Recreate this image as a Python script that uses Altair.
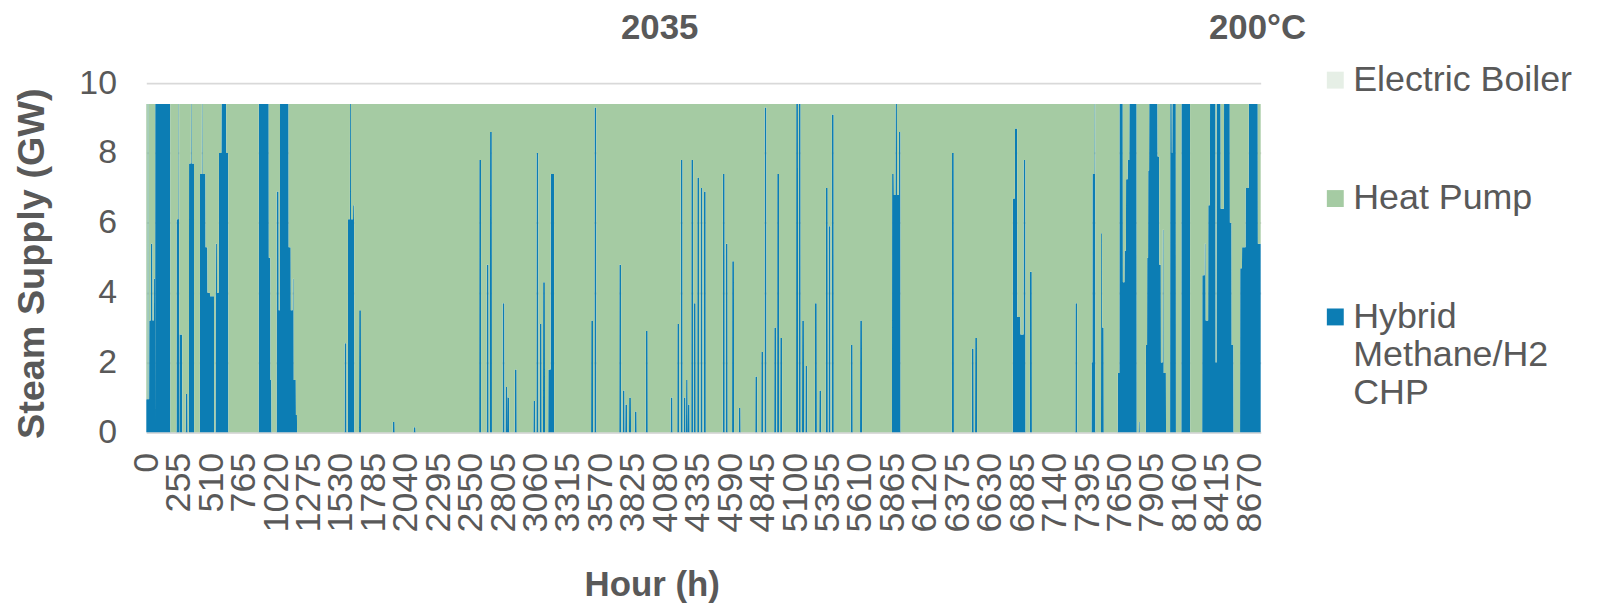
import altair as alt
import pandas as pd

# ---------------- data ----------------
hours_in_year = 8760
total_supply_gw = 9.4          # constant steam demand (top of the stack)
electric_boiler_gw = 0.0       # not visible anywhere in the chart

# Hybrid Methane/H2 CHP operating blocks: start hour, end hour, output (GW)
chp_start = [
    0, 11, 17, 23, 36, 49, 59, 70,
    238, 253, 262, 310, 336, 351, 357,
    422, 437, 443, 466, 481, 501,
    545, 556, 571, 591, 629,
    884, 963, 976,
    1025, 1041, 1051, 1119, 1136, 1151, 1159, 1176,
    1559, 1585, 1601, 1609, 1626, 1673,
    1938, 2102, 2617, 2676, 2702, 2801, 2824, 2840,
    2897, 3043, 3067, 3093, 3119, 3160, 3179,
    3497, 3523, 3718, 3745, 3765, 3795, 3840, 3927,
    4122, 4174, 4201, 4225, 4243, 4258, 4284, 4305,
    4331, 4357, 4383, 4532, 4555, 4605, 4657, 4787,
    4834, 4860, 4936, 4959, 4983, 5108, 5129, 5155,
    5181, 5256, 5290, 5342, 5363, 5389, 5538, 5611,
    5862, 5876, 5889, 5901, 5915,
    6333, 6489, 6515,
    6811, 6828, 6846, 6871, 6896, 6946,
    7303, 7430, 7437, 7453, 7505, 7513,
    7636, 7649, 7676, 7689, 7701, 7714, 7727, 7800,
    7857, 7867, 7875, 7883, 7949, 7962, 7975, 7989, 7997,
    8048, 8061, 8065, 8136,
    8300, 8319, 8327, 8347, 8361, 8405, 8413, 8445, 8471, 8517, 8531,
    8598, 8613, 8641, 8666, 8737,
]
chp_end = [
    10, 16, 22, 35, 48, 58, 68, 188,
    252, 258, 282, 324, 350, 356, 375,
    436, 442, 465, 480, 500, 532,
    555, 570, 590, 628, 644,
    962, 975, 983,
    1040, 1050, 1118, 1135, 1150, 1158, 1175, 1184,
    1573, 1600, 1608, 1625, 1634, 1687,
    1952, 2116, 2631, 2690, 2716, 2815, 2838, 2852,
    2911, 3057, 3081, 3107, 3133, 3178, 3205,
    3511, 3537, 3732, 3759, 3779, 3809, 3854, 3941,
    4136, 4188, 4215, 4238, 4255, 4270, 4298, 4318,
    4345, 4371, 4397, 4546, 4569, 4619, 4671, 4801,
    4848, 4874, 4950, 4973, 4997, 5122, 5143, 5169,
    5195, 5270, 5304, 5356, 5377, 5403, 5552, 5625,
    5875, 5888, 5900, 5914, 5928,
    6347, 6503, 6529,
    6827, 6845, 6870, 6895, 6910, 6960,
    7316, 7436, 7452, 7459, 7512, 7525,
    7648, 7675, 7688, 7700, 7713, 7726, 7784, 7808,
    7866, 7874, 7882, 7948, 7961, 7974, 7988, 7996, 8014,
    8060, 8064, 8092, 8204,
    8318, 8326, 8346, 8360, 8404, 8412, 8444, 8470, 8516, 8530, 8545,
    8612, 8640, 8665, 8736, 8759,
]
chp_gw = [
    0.95, 9.4, 0.95, 3.2, 5.4, 3.2, 4.4, 9.4,
    6.1, 9.4, 2.8, 1.1, 7.7, 9.4, 7.7,
    7.4, 9.4, 7.4, 5.3, 4.0, 3.9,
    5.4, 4.0, 8.0, 9.4, 8.0,
    9.4, 5.0, 1.5,
    6.9, 3.5, 9.4, 5.3, 3.5, 4.4, 1.5, 0.5,
    2.55, 6.1, 9.4, 6.1, 6.5, 3.5,
    0.3, 0.15, 7.8, 4.8, 8.6, 3.7, 1.3, 1.0,
    1.8, 0.9, 8.0, 3.1, 4.3, 1.8, 7.4,
    3.2, 9.3, 4.8, 1.2, 0.8, 1.0, 0.6, 2.9,
    1.0, 3.1, 7.8, 1.0, 1.5, 0.8, 7.8, 3.7,
    7.3, 7.0, 6.9, 7.4, 5.4, 4.9, 0.7, 1.6,
    2.3, 9.3, 3.0, 7.4, 2.7, 9.4, 9.4, 3.2,
    1.9, 3.7, 1.2, 7.0, 5.9, 9.1, 2.5, 3.2,
    7.4, 6.8, 9.4, 6.8, 8.6,
    8.0, 2.4, 2.7,
    6.7, 8.7, 3.3, 2.8, 7.8, 4.6,
    3.7, 2.0, 7.4, 9.4, 5.7, 3.0,
    1.7, 9.4, 4.3, 5.2, 7.25, 7.8, 9.4, 0.3,
    2.5, 5.0, 7.5, 9.4, 7.9, 4.8, 2.0, 5.8, 1.7,
    9.4, 8.0, 9.4, 9.4,
    4.5, 5.4, 3.2, 6.5, 9.4, 2.0, 9.4, 6.4, 9.4, 6.0, 2.5,
    4.7, 5.3, 7.0, 9.4, 5.4,
]

series_names = ["Electric Boiler", "Heat Pump", "Hybrid Methane/H2 CHP"]
series_colors = ["#E6EFE6", "#A5CBA3", "#0C7DB4"]
x_tick_values = list(range(0, hours_in_year, 255))
y_tick_values = [0, 2, 4, 6, 8, 10]
chart_title = "2035"
temperature_label = "200°C"

# ---------------- build the hourly breakpoint table ----------------
points = []
prev_end = None
for s, e, v in zip(chp_start, chp_end, chp_gw):
    if prev_end is None:
        if s > 0:
            points.append((0, 0.0))
            if s - 1 > 0:
                points.append((s - 1, 0.0))
    elif s - prev_end > 1:
        points.append((prev_end + 1, 0.0))
        if s - 1 > prev_end + 1:
            points.append((s - 1, 0.0))
    points.append((s, v))
    if e != s:
        points.append((e, v))
    prev_end = e
if prev_end < hours_in_year - 1:
    points.append((prev_end + 1, 0.0))
    points.append((hours_in_year - 1, 0.0))

rows = []
for h, v in points:
    rows.append({"hour": h, "gw": v, "series": series_names[2], "stack_order": 0})
    rows.append({"hour": h, "gw": total_supply_gw - v - electric_boiler_gw,
                 "series": series_names[1], "stack_order": 1})
    rows.append({"hour": h, "gw": electric_boiler_gw, "series": series_names[0], "stack_order": 2})
df = pd.DataFrame(rows)

GRAY = "#595959"
FONT = "Liberation Sans"

area = alt.Chart(df).mark_area(interpolate="linear", strokeWidth=0).encode(
    x=alt.X(
        "hour:Q",
        scale=alt.Scale(domain=[0, hours_in_year - 1], nice=False, zero=False),
        axis=alt.Axis(
            values=x_tick_values, format="d", labelAngle=270, labelFontSize=36,
            labelColor=GRAY, labelPadding=20, labelOverlap=False, labelFlush=False,
            ticks=False, grid=False,
            domain=True, domainColor="#D9D9D9", domainWidth=2,
            title="Hour (h)", titleFontSize=35, titleFontWeight="bold", titleColor=GRAY,
            titleX=508, titleY=153, titleBaseline="middle",
        ),
    ),
    y=alt.Y(
        "gw:Q",
        stack="zero",
        scale=alt.Scale(domain=[0, 10], nice=False),
        axis=alt.Axis(
            values=y_tick_values, labelFontSize=34, labelColor=GRAY, labelPadding=30,
            ticks=False, domain=False, grid=True, gridColor="#D9D9D9", gridWidth=2,
            title="Steam Supply (GW)", titleFontSize=38, titleFontWeight="bold",
            titleColor=GRAY, titleAngle=270, titleX=-114, titleY=181,
            titleBaseline="middle", titleAlign="center",
        ),
    ),
    color=alt.Color(
        "series:N",
        scale=alt.Scale(domain=series_names, range=series_colors),
        legend=alt.Legend(
            orient="none", legendX=1177, legendY=-21, title=None,
            symbolType="square", symbolSize=289, symbolStrokeWidth=0,
            labelFontSize=36, labelColor=GRAY, labelOffset=0, labelLimit=400,
            rowPadding=83, padding=0,
            labelExpr="datum.label == 'Hybrid Methane/H2 CHP' ? ['Hybrid', 'Methane/H2', 'CHP'] : datum.label",
        ),
    ),
    order=alt.Order("stack_order:Q"),
)

title_text = alt.Chart(pd.DataFrame({"t": [chart_title]})).mark_text(
    align="left", baseline="middle", fontSize=35, fontWeight="bold", color=GRAY, font=FONT
).encode(text="t:N", x=alt.value(477), y=alt.value(-55))

temp_text = alt.Chart(pd.DataFrame({"t": [temperature_label]})).mark_text(
    align="left", baseline="middle", fontSize=35, fontWeight="bold", color=GRAY, font=FONT
).encode(text="t:N", x=alt.value(1068), y=alt.value(-55))

chart = alt.layer(area, title_text, temp_text).properties(
    width=1120, height=351,
    autosize=alt.AutoSizeParams(type="none"),
    padding={"left": 139, "top": 74, "right": 334, "bottom": 172},
).configure(font=FONT).configure_view(stroke=None)

chart.save("out.html", embed_options={"renderer": "svg", "actions": False})
